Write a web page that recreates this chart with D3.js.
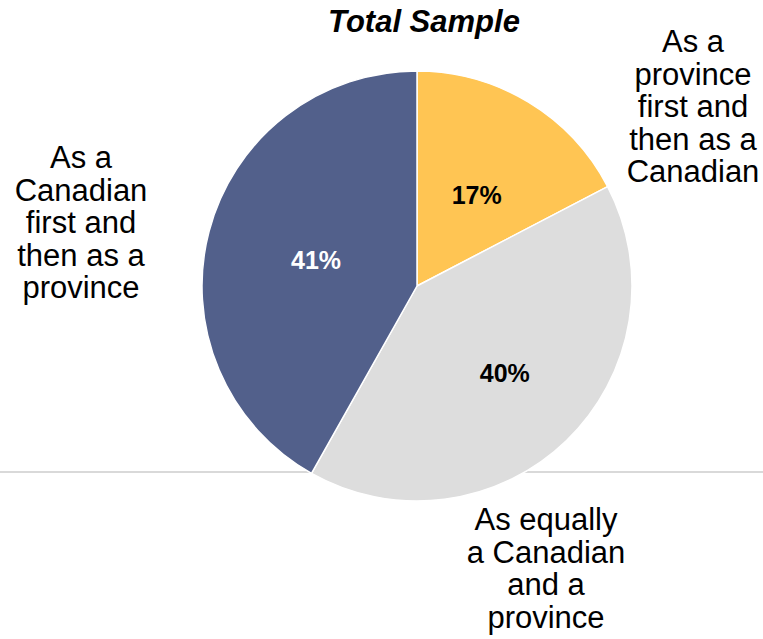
<!DOCTYPE html>
<html>
<head>
<meta charset="utf-8">
<script src="https://cdn.jsdelivr.net/npm/d3@7"></script>
<style>
  html, body { margin: 0; padding: 0; background: #fff; }
  svg { display: block; }
  text { font-family: "Liberation Sans", Arial, sans-serif; }
</style>
</head>
<body>
<svg id="chart" width="763" height="639"></svg>
<script>
// Survey: how respondents identify themselves (Total Sample)
const categories = [
  "As a province first and then as a Canadian",
  "As equally a Canadian and a province",
  "As a Canadian first and then as a province"
];
const values = [17, 40, 41];
const colors = ["#ffc553", "#dddddd", "#52608b"];
const labelColors = ["#000000", "#000000", "#ffffff"];
const categoryLines = [
  ["As a", "province", "first and", "then as a", "Canadian"],
  ["As equally", "a Canadian", "and a", "province"],
  ["As a", "Canadian", "first and", "then as a", "province"]
];
const title = "Total Sample";

const W = 763, H = 639;
const cx = 417, cy = 286, R = 215;

const svg = d3.select("#chart");

// baseline rule across the plot area
svg.append("line")
  .attr("x1", 0).attr("x2", W)
  .attr("y1", 472).attr("y2", 472)
  .attr("stroke", "#d9d9d9").attr("stroke-width", 2);

const pie = d3.pie().sort(null).value(d => d)(values);
const arc = d3.arc().innerRadius(0).outerRadius(R);
const labelArc = d3.arc().innerRadius(R * 0.5).outerRadius(R * 0.5);

const g = svg.append("g").attr("transform", `translate(${cx},${cy})`);

g.selectAll("path.slice")
  .data(pie)
  .join("path")
  .attr("class", "slice")
  .attr("d", arc)
  .attr("fill", (d, i) => colors[i])
  .attr("stroke", "#ffffff")
  .attr("stroke-width", 1.5)
  .attr("stroke-linejoin", "round");

// percentage labels inside slices
const pctOffset = [[4, 1], [13, 10], [3, 2]];
g.selectAll("text.pct")
  .data(pie)
  .join("text")
  .attr("class", "pct")
  .attr("transform", (d, i) => {
    const [x, y] = labelArc.centroid(d);
    return `translate(${x + pctOffset[i][0]},${y + pctOffset[i][1]})`;
  })
  .attr("text-anchor", "middle")
  .attr("dy", "0.35em")
  .attr("font-size", 25)
  .attr("font-weight", "bold")
  .attr("fill", (d, i) => labelColors[i])
  .text(d => d.data + "%");

// category labels outside the pie
const catPos = [
  { x: 693, y: 52 },
  { x: 546, y: 530 },
  { x: 81, y: 168 }
];
const lineH = 32.5;
categoryLines.forEach((lines, i) => {
  const t = svg.append("text")
    .attr("text-anchor", "middle")
    .attr("font-size", 31)
    .attr("fill", "#000");
  lines.forEach((ln, j) => {
    t.append("tspan")
      .attr("x", catPos[i].x)
      .attr("y", catPos[i].y + j * lineH)
      .text(ln);
  });
});

svg.append("text")
  .attr("x", 424)
  .attr("y", 32)
  .attr("text-anchor", "middle")
  .attr("font-size", 31)
  .attr("font-weight", "bold")
  .attr("font-style", "italic")
  .text(title);
</script>
</body>
</html>
